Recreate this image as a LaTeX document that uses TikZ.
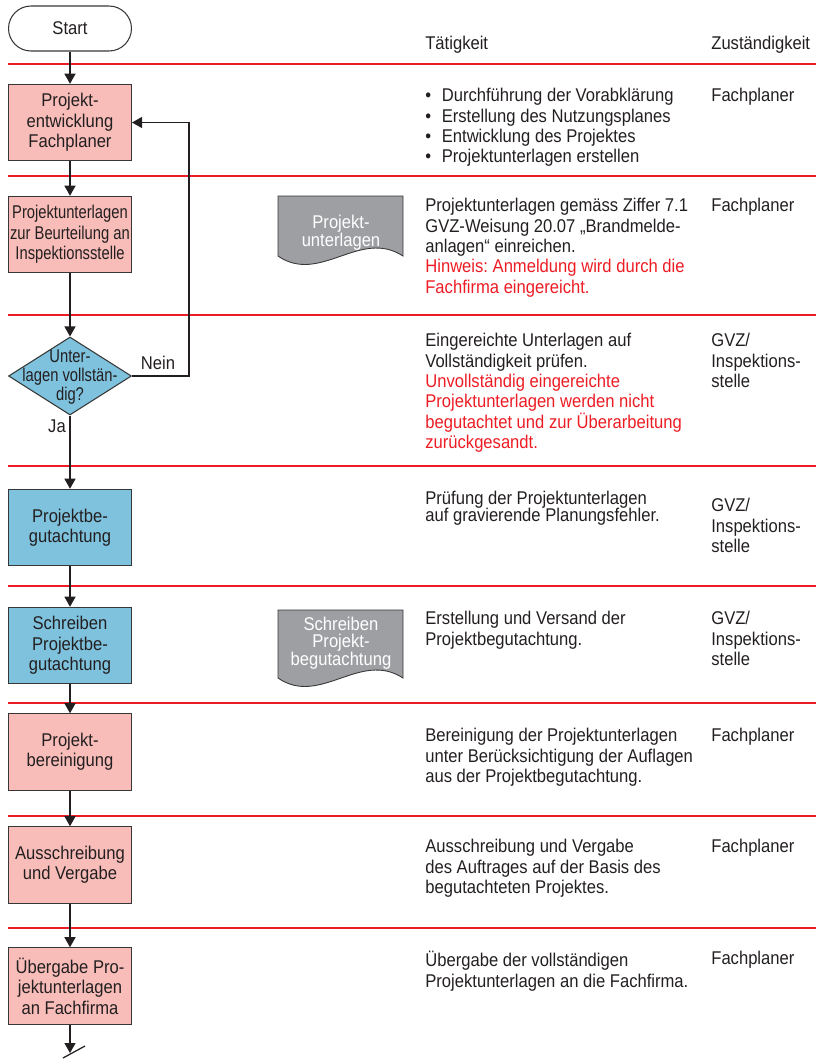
\documentclass[tikz,border=0pt]{standalone}
\usepackage{fontspec}
\setmainfont[FakeStretch=0.9]{Liberation Sans}
\newfontfamily\narrowsf[FakeStretch=0.8]{Liberation Sans}
\usepackage{xcolor}
\usepackage{tikz}
\usetikzlibrary{arrows.meta,shapes.geometric}
\definecolor{ink}{RGB}{35,31,32}
\definecolor{edge}{RGB}{55,55,55}
\definecolor{boxpink}{RGB}{248,189,185}
\definecolor{boxblue}{RGB}{126,194,222}
\definecolor{docgray}{RGB}{157,159,162}
\definecolor{hint}{RGB}{237,28,36}
\newcommand{\bul}{\makebox[0.33cm][l]{\textbullet}}
\newcommand{\gvzinsp}{GVZ/\\Inspektions-\\stelle}

\begin{document}
\frenchspacing
\begin{tikzpicture}[x=0.02cm, y=-0.02cm,
  every node/.style={text=ink, inner sep=0pt, font=\fontsize{10.5}{11.6}\selectfont},
  procbox/.style={draw=edge, line width=0.6pt, minimum width=2.46cm,
    minimum height=1.53cm, align=center},
  pinkbox/.style={procbox, fill=boxpink},
  bluebox/.style={procbox, fill=boxblue},
  coltext/.style={anchor=north west, align=left},
  doctext/.style={text=white, align=center, font=\fontsize{10.5}{10}\selectfont},
  conn/.style={draw=ink, line width=0.7pt},
  flow/.style={conn, -{Triangle[width=0.22cm,length=0.2cm]}}]
  \useasboundingbox (0,0) rectangle (816,1059);

  % Red row separators
  \foreach \y in {64,176,315,466,586,703,816,928} {
    \draw[hint, line width=0.6pt] (8,\y) -- (816,\y);
  }

  % Column heads
  \node[coltext] (hdr1) at (425,36) {Tätigkeit};
  \node[coltext] (hdr2) at (711,36) {Zuständigkeit};

  % Flow chart
  \node[draw=edge, line width=0.6pt, fill=white, rounded corners=0.45cm,
    minimum width=2.46cm, minimum height=0.9cm] (start) at (70,28.5) {Start};
  \node[pinkbox] (p1) at (70,122.5) {Projekt-\\entwicklung\\Fachplaner};
  \node[pinkbox, font=\narrowsf\fontsize{10.5}{11.6}\selectfont] (p2) at (70,234.5)
    {Projektunterlagen\\zur Beurteilung an\\Inspektionsstelle};
  \node[diamond, draw=edge, line width=0.6pt, fill=boxblue, minimum width=2.46cm,
    minimum height=1.56cm] (dec) at (70,376) {};
  \node[align=center, font=\narrowsf\fontsize{10.5}{11}\selectfont] (dectxt) at (70,377)
    {Unter-\\lagen vollstän-\\dig?};
  \node[bluebox] (p4) at (70,527.5) {Projektbe-\\gutachtung};
  \node[bluebox] (p5) at (70,645.5) {Schreiben\\Projektbe-\\gutachtung};
  \node[pinkbox] (p6) at (70,752) {Projekt-\\bereinigung};
  \node[pinkbox] (p7) at (70,865) {Ausschreibung\\und Vergabe};
  \node[pinkbox] (p8) at (70,986) {Übergabe Pro-\\jektunterlagen\\an Fachfirma};
  \coordinate (end) at (70,1053);

  \foreach \a/\b in {start/p1,p1/p2,p2/dec,dec/p4,p4/p5,p5/p6,p6/p7,p7/p8} {
    \draw[flow] (\a) -- (\b);
  }
  \draw[flow] (p8) -- (end);
  \draw[conn] ([shift={(-7,5)}]end) -- ([shift={(15,-7)}]end);

  % Loop back
  \draw[flow] (dec.east) -- ++(57,0) |- (p1.east);
  \node (lblno) at (158,363) {Nein};
  \node (lblyes) at (57,426) {Ja};

  % Documents
  \filldraw[fill=docgray, draw=edge, line width=0.5pt]
    (278,196) -- (403,196) -- (403,256)
    .. controls (360,228) and (320,285) .. (278,256) -- cycle;
  \node[doctext] (doc1) at (341,233) {Projekt-\\unterlagen};
  \filldraw[fill=docgray, draw=edge, line width=0.5pt]
    (278,610) -- (403,610) -- (403,678)
    .. controls (360,650) and (320,707) .. (278,678) -- cycle;
  \node[doctext] (doc2) at (341,643) {Schreiben\\Projekt-\\begutachtung};

  % Activities
  \node[coltext] (t1) at (425,88) {\bul Durchführung der Vorabklärung\\
    \bul Erstellung des Nutzungsplanes\\\bul Entwicklung des Projektes\\
    \bul Projektunterlagen erstellen};
  \node[coltext] (t2) at (425,198) {Projektunterlagen gemäss Ziffer 7.1\\
    GVZ-Weisung 20.07 „Brandmelde-\\anlagen“ einreichen.\\
    \textcolor{hint}{Hinweis: Anmeldung wird durch die}\\
    \textcolor{hint}{Fachfirma eingereicht.}};
  \node[coltext] (t3) at (425,333) {Eingereichte Unterlagen auf\\
    Vollständigkeit prüfen.\\\textcolor{hint}{Unvollständig eingereichte}\\
    \textcolor{hint}{Projektunterlagen werden nicht}\\
    \textcolor{hint}{begutachtet und zur Überarbeitung}\\
    \textcolor{hint}{zurückgesandt.}};
  \node[coltext] (t4) at (425,491) {Prüfung der Projektunterlagen\\[-2pt]
    auf gravierende Planungsfehler.};
  \node[coltext] (t5) at (425,611) {Erstellung und Versand der\\
    Projektbegutachtung.};
  \node[coltext] (t6) at (425,728) {Bereinigung der Projektunterlagen\\
    unter Berücksichtigung der Auflagen\\aus der Projektbegutachtung.};
  \node[coltext] (t7) at (425,839) {Ausschreibung und Vergabe\\
    des Auftrages auf der Basis des\\begutachteten Projektes.};
  \node[coltext] (t8) at (425,951) {Übergabe der vollständigen\\
    Projektunterlagen an die Fachfirma.};

  % Responsibilities
  \node[coltext] (r1) at (711,88) {Fachplaner};
  \node[coltext] (r2) at (711,198) {Fachplaner};
  \node[coltext] (r3) at (711,333) {\gvzinsp};
  \node[coltext] (r4) at (711,498) {\gvzinsp};
  \node[coltext] (r5) at (711,611) {\gvzinsp};
  \node[coltext] (r6) at (711,728) {Fachplaner};
  \node[coltext] (r7) at (711,839) {Fachplaner};
  \node[coltext] (r8) at (711,951) {Fachplaner};
\end{tikzpicture}
\end{document}
